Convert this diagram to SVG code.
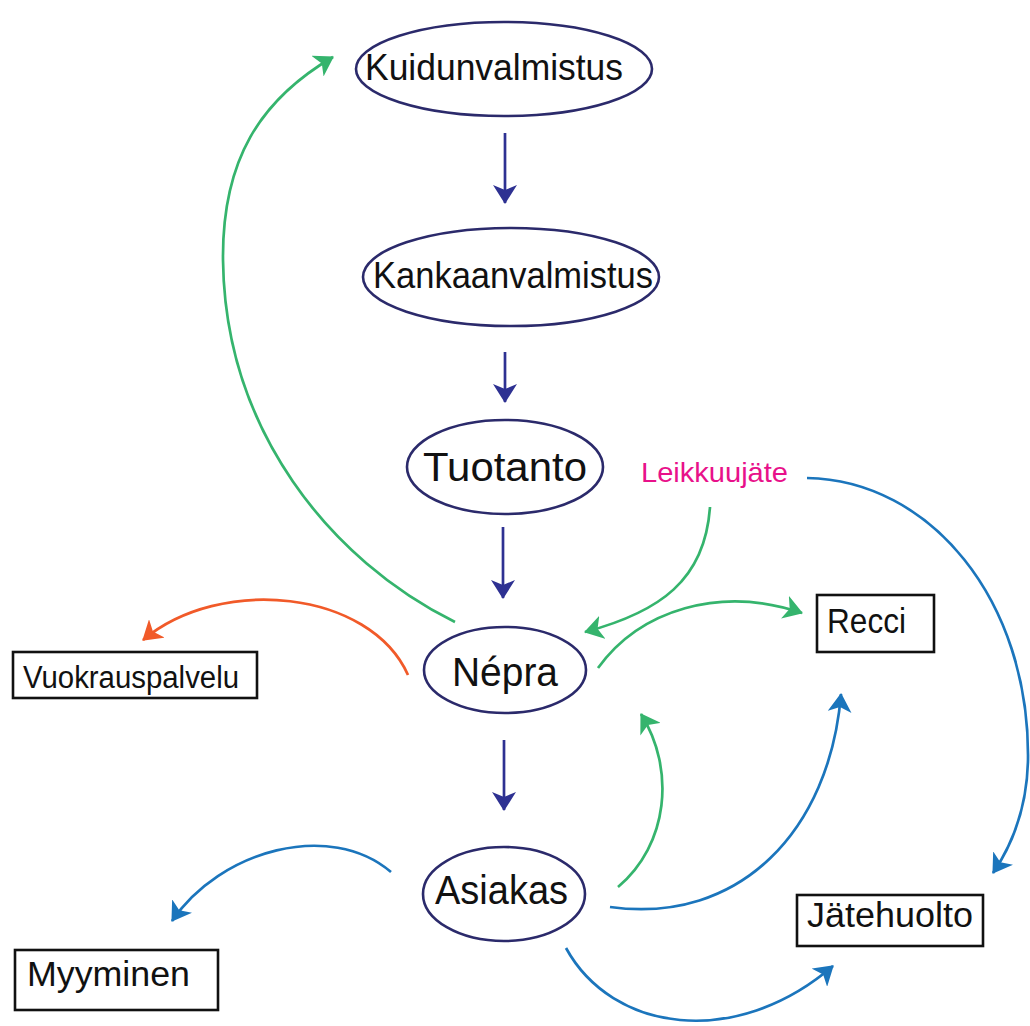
<svg xmlns="http://www.w3.org/2000/svg" width="1030" height="1026" viewBox="0 0 1030 1026">
<style>
.node ellipse{fill:#fff;stroke:#2b2a6b;stroke-width:2.6}
.box rect{fill:#fff;stroke:#111;stroke-width:2.6}
text{font-family:"Liberation Sans",Arial,sans-serif;fill:#111}
.c{fill:none;stroke-width:2.7}
.navy{stroke:#2e3192}
.green{stroke:#35b46d}
.blue{stroke:#1b75bc}
.orange{stroke:#f15a29}
</style>
<defs>
<marker id="aN" viewBox="0 0 19 24" refX="18" refY="12" markerWidth="19" markerHeight="24" markerUnits="userSpaceOnUse" orient="auto"><path d="M19,12 L0,0 L5,12 L0,24 Z" fill="#2e3192"/></marker>
<marker id="aG" viewBox="0 0 19 24" refX="18" refY="12" markerWidth="19" markerHeight="24" markerUnits="userSpaceOnUse" orient="auto"><path d="M19,12 L0,0 L5,12 L0,24 Z" fill="#35b46d"/></marker>
<marker id="aB" viewBox="0 0 19 24" refX="18" refY="12" markerWidth="19" markerHeight="24" markerUnits="userSpaceOnUse" orient="auto"><path d="M19,12 L0,0 L5,12 L0,24 Z" fill="#1b75bc"/></marker>
<marker id="aO" viewBox="0 0 19 24" refX="18" refY="12" markerWidth="19" markerHeight="24" markerUnits="userSpaceOnUse" orient="auto"><path d="M19,12 L0,0 L5,12 L0,24 Z" fill="#f15a29"/></marker>
</defs>
<rect width="1030" height="1026" fill="#fff"/>
<g id="connectors">
<path class="c navy" d="M505,133 L505,203" marker-end="url(#aN)"/>
<path class="c navy" d="M505,352 L505,402" marker-end="url(#aN)"/>
<path class="c navy" d="M503,527 L503,598" marker-end="url(#aN)"/>
<path class="c navy" d="M504,740 L504,810" marker-end="url(#aN)"/>
<path class="c green" d="M455,622 C330,560 225,430 223,260 C222,160 260,100 333,57" marker-end="url(#aG)"/>
<path class="c green" d="M710,507 C705,580 660,612 585,632" marker-end="url(#aG)"/>
<path class="c green" d="M598,668 C640,610 720,585 802,613" marker-end="url(#aG)"/>
<path class="c green" d="M618,887 C668,845 676,770 641,714" marker-end="url(#aG)"/>
<path class="c blue" d="M807,478 C930,480 1030,600 1028,760 C1027,810 1012,845 993,873" marker-end="url(#aB)"/>
<path class="c blue" d="M610,907 C740,925 830,830 841,694" marker-end="url(#aB)"/>
<path class="c blue" d="M566,948 C612,1032 735,1050 833,966" marker-end="url(#aB)"/>
<path class="c blue" d="M391,872 C330,820 220,850 172,921" marker-end="url(#aB)"/>
<path class="c orange" d="M408,675 C370,590 220,575 143,640" marker-end="url(#aO)"/>
</g>
<g id="kuidunvalmistus" class="node"><ellipse cx="504" cy="69" rx="148" ry="47"/><text x="365" y="80" font-size="37" textLength="258" lengthAdjust="spacingAndGlyphs">Kuidunvalmistus</text></g>
<g id="kankaanvalmistus" class="node"><ellipse cx="511" cy="277" rx="148" ry="49"/><text x="373" y="288" font-size="37" textLength="280" lengthAdjust="spacingAndGlyphs">Kankaanvalmistus</text></g>
<g id="tuotanto" class="node"><ellipse cx="505" cy="467" rx="98" ry="47"/><text x="423" y="481" font-size="41" textLength="164" lengthAdjust="spacingAndGlyphs">Tuotanto</text></g>
<g id="nepra" class="node"><ellipse cx="505" cy="670" rx="81" ry="43"/><text x="452" y="686" font-size="41" textLength="106" lengthAdjust="spacingAndGlyphs">Népra</text></g>
<g id="asiakas" class="node"><ellipse cx="504" cy="894" rx="81" ry="47"/><text x="435" y="904" font-size="41" textLength="133" lengthAdjust="spacingAndGlyphs">Asiakas</text></g>
<g id="leikkuujate"><text x="641" y="482" font-size="28" textLength="147" lengthAdjust="spacingAndGlyphs" style="fill:#e8118a">Leikkuujäte</text></g>
<g id="recci" class="box"><rect x="817" y="595" width="117" height="57"/><text x="827" y="633" font-size="35" textLength="79" lengthAdjust="spacingAndGlyphs">Recci</text></g>
<g id="jatehuolto" class="box"><rect x="797" y="895" width="186" height="51"/><text x="807" y="927" font-size="35" textLength="166" lengthAdjust="spacingAndGlyphs">Jätehuolto</text></g>
<g id="vuokrauspalvelu" class="box"><rect x="13" y="652" width="244" height="46"/><text x="23" y="688" font-size="31" textLength="216" lengthAdjust="spacingAndGlyphs">Vuokrauspalvelu</text></g>
<g id="myyminen" class="box"><rect x="15" y="950" width="203" height="60"/><text x="27" y="986" font-size="35" textLength="163" lengthAdjust="spacingAndGlyphs">Myyminen</text></g>
</svg>
